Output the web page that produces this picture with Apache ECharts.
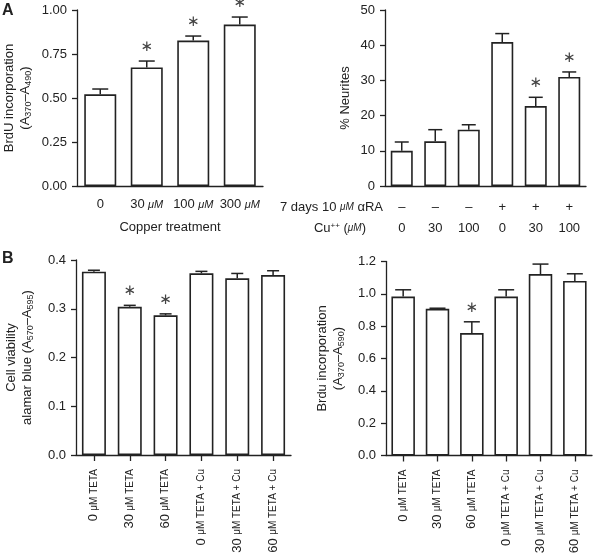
<!DOCTYPE html>
<html>
<head>
<meta charset="utf-8">
<script src="https://cdn.jsdelivr.net/npm/echarts@6/dist/echarts.min.js"></script>
<style>
html,body{margin:0;padding:0;background:#fff;}
#c{width:595px;height:560px;}
</style>
</head>
<body>
<div id="c"></div>
<script>
// ---- Data ----
const aLeftCats = ['0', '30 μM', '100 μM', '300 μM'];
const aLeftMean = [0.521, 0.674, 0.826, 0.917];
const aLeftErr  = [0.030, 0.036, 0.026, 0.043];
const aLeftSig  = [0, 1, 1, 1];
const aLeftTicks = [0, 1.0, 0.25];

const aRightRA  = ['–', '–', '–', '+', '+', '+'];
const aRightCu  = ['0', '30', '100', '0', '30', '100'];
const aRightMean = [10.0, 12.7, 16.0, 40.9, 22.7, 31.0];
const aRightErr  = [2.5, 3.3, 1.4, 2.4, 2.5, 1.4];
const aRightSig  = [0, 0, 0, 0, 1, 1];
const aRightTicks = [0, 50, 10];

const bCats = ['0 μM TETA', '30 μM TETA', '60 μM TETA', '0 μM TETA + Cu', '30 μM TETA + Cu', '60 μM TETA + Cu'];
const bLeftMean = [0.376, 0.304, 0.2865, 0.3727, 0.3624, 0.369];
const bLeftErr  = [0.003, 0.003, 0.003, 0.004, 0.010, 0.009];
const bLeftSig  = [0, 1, 1, 0, 0, 0];
const bLeftTicks = [0, 0.4, 0.1];

const bRightMean = [0.983, 0.907, 0.757, 0.983, 1.122, 1.080];
const bRightErr  = [0.042, 0.004, 0.070, 0.042, 0.062, 0.044];
const bRightSig  = [0, 0, 1, 0, 0, 0];
const bRightTicks = [0, 1.2, 0.2];

// ---- Styling ----
const INK = '#222';
const FONT = 'Liberation Sans, Arial, sans-serif';

function errData(mean, err, sig) {
  return mean.map((m, i) => [i, m, err[i], sig[i]]);
}
function errRender(capHalf) {
  return function (params, api) {
    const i = api.value(0), m = api.value(1), e = api.value(2), s = api.value(3);
    const base = api.coord([i, m]);
    const top = api.coord([i, m + e]);
    const st = { stroke: INK, lineWidth: 1.5 };
    const children = [
      { type: 'line', shape: { x1: base[0], y1: base[1], x2: top[0], y2: top[1] }, style: st },
      { type: 'line', shape: { x1: top[0] - capHalf, y1: top[1], x2: top[0] + capHalf, y2: top[1] }, style: st }
    ];
    if (s) {
      children.push({ type: 'text', x: top[0], y: top[1] - 14,
        style: { text: '∗', align: 'center', verticalAlign: 'middle', fontSize: 15, fontFamily: 'DejaVu Sans', fill: '#444' } });
    }
    return { type: 'group', children: children };
  };
}
function yAxisCfg(grid, ticks, dec, name, gap, nameRich, lh) {
  return {
    type: 'value', gridIndex: grid, min: ticks[0], max: ticks[1], interval: ticks[2],
    axisLine: { show: true, lineStyle: { color: INK, width: 1.3 } },
    axisTick: { show: true, length: 5, lineStyle: { color: INK, width: 1.3 } },
    splitLine: { show: false },
    axisLabel: { color: INK, fontSize: 13, fontFamily: FONT, margin: 10,
      formatter: v => v.toFixed(dec) },
    name: name, nameLocation: 'middle', nameGap: gap,
    nameTextStyle: { color: INK, fontSize: 13, fontFamily: FONT, lineHeight: lh, align: 'center', rich: nameRich }
  };
}
const subRich = {
  t: { fontSize: 13, fontFamily: FONT, color: INK, lineHeight: 16 },
  s: { fontSize: 9, fontFamily: FONT, color: INK, verticalAlign: 'bottom', lineHeight: 16, padding: [4, 0, 0, 0] }
};
const barStyle = { color: '#fff', borderColor: INK, borderWidth: 1.6 };

const option = {
  backgroundColor: '#fff',
  animation: false,
  textStyle: { fontFamily: FONT },
  grid: [
    { left: 76, top: 10, width: 187, height: 176 },
    { left: 385, top: 10, width: 201, height: 176 },
    { left: 76, top: 260, width: 215, height: 195 },
    { left: 386, top: 261.5, width: 206, height: 194 }
  ],
  xAxis: [
    { type: 'category', gridIndex: 0, data: aLeftCats,
      axisLine: { lineStyle: { color: INK, width: 1.3 } }, axisTick: { show: false },
      axisLabel: { color: INK, margin: 12, interval: 0,
        formatter: v => { const p = v.split(' '); return p.length > 1 ? '{n|' + p[0] + '} {u|' + p[1] + '}' : '{n|' + v + '}'; },
        rich: { n: { fontSize: 13, fontFamily: FONT, color: INK }, u: { fontSize: 11, fontStyle: 'italic', fontFamily: FONT, color: INK } } },
      name: 'Copper treatment', nameLocation: 'middle', nameGap: 35,
      nameTextStyle: { color: INK, fontSize: 13, fontFamily: FONT } },
    { type: 'category', gridIndex: 1, data: aRightCu.map((c, i) => aRightRA[i] + '\n' + c),
      axisLine: { lineStyle: { color: INK, width: 1.3 } }, axisTick: { show: false },
      axisLabel: { color: INK, margin: 11, interval: 0, fontSize: 13, lineHeight: 21, fontFamily: FONT } },
    { type: 'category', gridIndex: 2, data: bCats,
      axisLine: { lineStyle: { color: INK, width: 1.3 } },
      axisTick: { show: true, alignWithLabel: true, length: 6, lineStyle: { color: INK, width: 1.3 } },
      axisLabel: { color: INK, rotate: 90, margin: 14, interval: 0,
        formatter: v => { const i = v.indexOf(' '); return '{n|' + v.slice(0, i) + '} {u|' + v.slice(i + 1) + '}'; },
        rich: { n: { fontSize: 13, fontFamily: FONT, color: INK }, u: { fontSize: 10, fontFamily: FONT, color: INK } } } },
    { type: 'category', gridIndex: 3, data: bCats,
      axisLine: { lineStyle: { color: INK, width: 1.3 } },
      axisTick: { show: true, alignWithLabel: true, length: 6, lineStyle: { color: INK, width: 1.3 } },
      axisLabel: { color: INK, rotate: 90, margin: 14, interval: 0,
        formatter: v => { const i = v.indexOf(' '); return '{n|' + v.slice(0, i) + '} {u|' + v.slice(i + 1) + '}'; },
        rich: { n: { fontSize: 13, fontFamily: FONT, color: INK }, u: { fontSize: 10, fontFamily: FONT, color: INK } } } }
  ],
  yAxis: [
    yAxisCfg(0, aLeftTicks, 2, '{t|BrdU incorporation}\n{t|(A}{s|370}{t|–A}{s|490}{t|)}', 44, subRich, 16),
    yAxisCfg(1, aRightTicks, 0, '% Neurites', 31, null, 17),
    yAxisCfg(2, bLeftTicks, 1, '{t|Cell viability}\n{t|alamar blue (A}{s|570}{t|–A}{s|595}{t|)}', 41, subRich, 16),
    yAxisCfg(3, bRightTicks, 1, '{t|Brdu incorporation}\n{t|(A}{s|370}{t|–A}{s|590}{t|)}', 40, subRich, 16)
  ],
  series: [
    { type: 'bar', xAxisIndex: 0, yAxisIndex: 0, data: aLeftMean, barWidth: 32, itemStyle: barStyle },
    { type: 'custom', xAxisIndex: 0, yAxisIndex: 0, data: errData(aLeftMean, aLeftErr, aLeftSig), renderItem: errRender(8), z: 5 },
    { type: 'bar', xAxisIndex: 1, yAxisIndex: 1, data: aRightMean, barWidth: 22, itemStyle: barStyle },
    { type: 'custom', xAxisIndex: 1, yAxisIndex: 1, data: errData(aRightMean, aRightErr, aRightSig), renderItem: errRender(7), z: 5 },
    { type: 'bar', xAxisIndex: 2, yAxisIndex: 2, data: bLeftMean, barWidth: 24, itemStyle: barStyle },
    { type: 'custom', xAxisIndex: 2, yAxisIndex: 2, data: errData(bLeftMean, bLeftErr, bLeftSig), renderItem: errRender(6), z: 5 },
    { type: 'bar', xAxisIndex: 3, yAxisIndex: 3, data: bRightMean, barWidth: 23.5, itemStyle: barStyle },
    { type: 'custom', xAxisIndex: 3, yAxisIndex: 3, data: errData(bRightMean, bRightErr, bRightSig), renderItem: errRender(8), z: 5 }
  ],
  graphic: [
    { type: 'text', x: 2, y: 3, style: { text: 'A', fontSize: 16, fontWeight: 'bold', fontFamily: FONT, fill: INK } },
    { type: 'text', x: 2, y: 251, style: { text: 'B', fontSize: 16, fontWeight: 'bold', fontFamily: FONT, fill: INK } },
    { type: 'text', x: 383, y: 207, style: { text: '{n|7 days 10 }{u|μM}{n| αRA}', align: 'right', verticalAlign: 'middle',
        rich: { n: { fontSize: 13, fontFamily: FONT, fill: INK }, u: { fontSize: 10, fontStyle: 'italic', fontFamily: FONT, fill: INK } } } },
    { type: 'text', x: 366, y: 228, style: { text: '{n|Cu}{p|++}{n| (}{u|μM}{n|)}', align: 'right', verticalAlign: 'middle',
        rich: { n: { fontSize: 13, fontFamily: FONT, fill: INK }, p: { fontSize: 8, fontFamily: FONT, fill: INK, verticalAlign: 'top' }, u: { fontSize: 10, fontStyle: 'italic', fontFamily: FONT, fill: INK } } } }
  ]
};
const chart = echarts.init(document.getElementById('c'), null, { renderer: 'canvas' });
chart.setOption(option);
</script>
</body>
</html>
